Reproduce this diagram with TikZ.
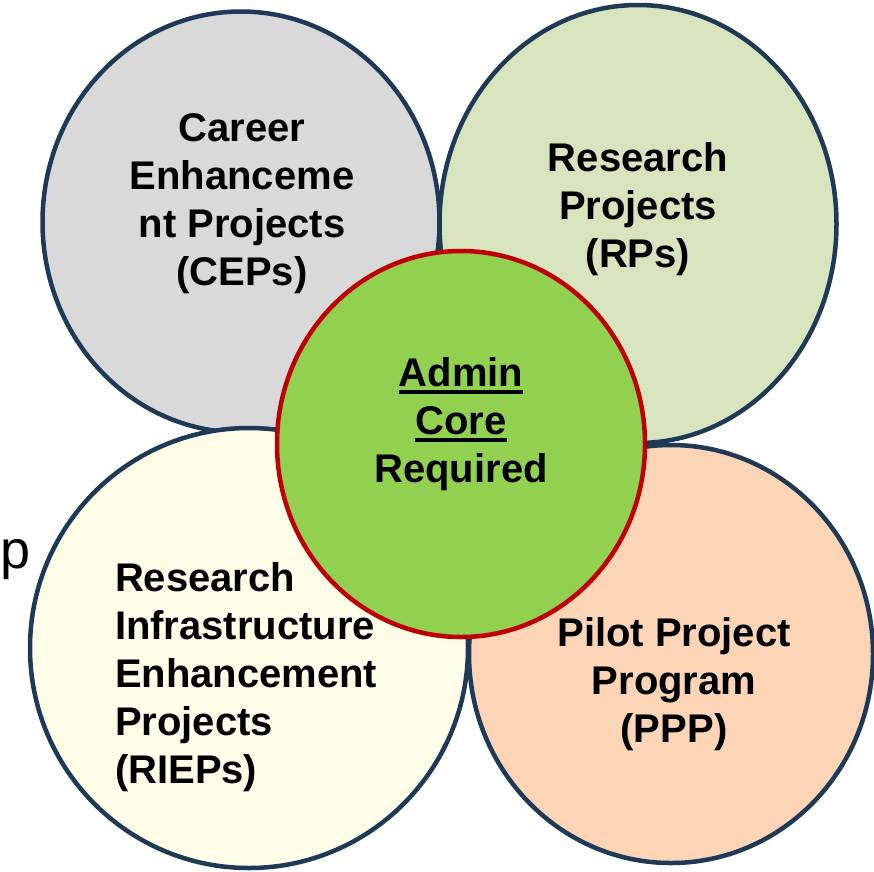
\documentclass[tikz,border=0pt]{standalone}
\usepackage{fontspec}
\setmainfont{Liberation Sans}
\usetikzlibrary{shapes.geometric}
\definecolor{navy}{HTML}{1F3A57}
\definecolor{redline}{HTML}{C00000}
\definecolor{cgray}{HTML}{D9D9D9}
\definecolor{cgreen}{HTML}{D7E4BD}
\definecolor{cyellow}{HTML}{FEFEE9}
\definecolor{corange}{HTML}{FBD5B5}
\definecolor{ccore}{HTML}{92D050}
\newcommand\ulword[1]{\setbox0\hbox{#1}\rlap{\rule[-7.5pt]{\wd0}{3.3pt}}\box0}
\tikzset{
  blob/.style={ellipse, draw=navy, line width=4.5pt, inner sep=0pt, outer sep=0pt},
  corebox/.style={ellipse, draw=redline, fill=ccore, line width=4.5pt, inner sep=0pt, outer sep=0pt},
  lbl/.style={font=\fontsize{40}{48}\selectfont\bfseries, inner sep=0pt, outer sep=0pt}
}
\begin{document}
\begin{tikzpicture}[x=1pt,y=-1pt]
\useasboundingbox (0,0) rectangle (874,871);
\node[blob, fill=cgray, minimum width=397pt, minimum height=421pt] (cep) at (241,222) {};
\node[blob, fill=cgreen, minimum width=397pt, minimum height=438pt] (rp) at (638,224) {};
\node[blob, fill=cyellow, minimum width=438pt, minimum height=440pt] (riep) at (249,648) {};
\node[blob, fill=corange, minimum width=404pt, minimum height=418pt] (ppp) at (671,654) {};
\node[corebox, minimum width=368pt, minimum height=386pt] (core) at (461,444) {};
\node[lbl, align=center, anchor=base] (tcep) at (242,285) {Career\\Enhanceme\\nt Projects\\(CEPs)};
\node[lbl, align=center, anchor=base] (trp) at (638,267) {Research\\Projects\\(RPs)};
\node[lbl, align=left, anchor=base west] (triep) at (115,783) {Research\\Infrastructure\\Enhancement\\Projects\\(RIEPs)};
\node[lbl, align=center, anchor=base] (tppp) at (674,742) {Pilot Project\\Program\\(PPP)};
\node[lbl, align=center, anchor=base] (tcore) at (461,482) {\ulword{Admin}\\\ulword{Core}\\Required};
\node[font=\fontsize{54}{60}\selectfont, inner sep=0pt, anchor=base west] (frag) at (0,568) {p};
\end{tikzpicture}
\end{document}
